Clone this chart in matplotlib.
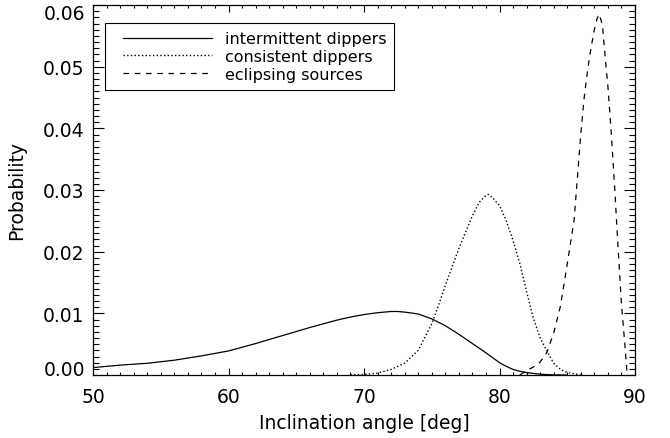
import matplotlib
matplotlib.use("Agg")
import matplotlib.pyplot as plt
from matplotlib.ticker import MultipleLocator, FuncFormatter
from matplotlib.lines import Line2D
from matplotlib.legend_handler import HandlerLine2D

# intermittent dippers (solid)
inc_int = [50, 52, 54, 56, 58, 60, 62, 64, 66, 68, 69, 70, 71, 72, 72.5, 73, 74, 75,
           76, 77, 78, 79, 79.5, 80, 80.5, 81, 81.5, 82, 83, 84, 85]
prob_int = [0.0012, 0.0016, 0.0019, 0.0024, 0.0031, 0.0039, 0.0051, 0.0064, 0.0077,
            0.0089, 0.0094, 0.0098, 0.0101, 0.0103, 0.0103, 0.0102, 0.0099, 0.0091,
            0.0080, 0.0066, 0.0051, 0.0036, 0.0028, 0.0020, 0.0014, 0.0009, 0.0006,
            0.0004, 0.00012, 0.00002, 0.0]

# consistent dippers (dotted)
inc_con = [69, 70, 71, 72, 73, 74, 75, 75.5, 76, 76.5, 77, 77.5, 78, 78.5, 79, 79.2,
           79.5, 80, 80.5, 81, 81.5, 82, 82.5, 83, 83.5, 84, 84.5, 85, 86]
prob_con = [0.0, 0.0001, 0.0003, 0.0009, 0.0019, 0.0040, 0.0083, 0.0113, 0.0145,
            0.0175, 0.0205, 0.0232, 0.0258, 0.0280, 0.0291, 0.0293, 0.0287, 0.0275,
            0.0250, 0.0218, 0.0181, 0.0135, 0.0092, 0.0060, 0.0039, 0.0019, 0.0009,
            0.0004, 0.0]

# eclipsing sources (dashed)
inc_ecl = [81.5, 82, 82.5, 83, 83.5, 84, 84.5, 85, 85.25, 85.5, 85.75, 86, 86.25,
           86.5, 86.75, 87, 87.2, 87.37, 87.6, 87.8, 88, 88.25, 88.5, 88.75, 89,
           89.25, 89.4, 89.5]
prob_ecl = [0.0, 0.0007, 0.0013, 0.0021, 0.0037, 0.0068, 0.0112, 0.0180, 0.0215,
            0.0250, 0.0320, 0.0391, 0.0450, 0.0494, 0.0530, 0.0560, 0.0578, 0.0585,
            0.0567, 0.0515, 0.0468, 0.0392, 0.0304, 0.0207, 0.0115, 0.0050, 0.0007,
            0.0]

labels = ["intermittent dippers", "consistent dippers", "eclipsing sources"]

ymin, ymax = 0.0, 0.06
fs = 13.5
leg_fs = 11.5
plt.rcParams["font.family"] = "DejaVu Sans"

fig = plt.figure(figsize=(6.7, 4.39), dpi=100)
ax = fig.add_axes([93/670., 1-376/439., 542/670., 370/439.])

ax.plot(inc_int, prob_int, '-', color='black', lw=0.9, label=labels[0])
ax.plot(inc_con, prob_con, ':', color='black', lw=1.0, label=labels[1])
ax.plot(inc_ecl, prob_ecl, color='black', lw=0.9, dashes=(4.5, 4.5), label=labels[2])

ax.set_xlim(50, 90)
ax.set_ylim(ymin, ymax)
ax.xaxis.set_major_locator(MultipleLocator(10))
ax.xaxis.set_minor_locator(MultipleLocator(1))
ax.yaxis.set_major_locator(MultipleLocator(0.01))
ax.yaxis.set_minor_locator(MultipleLocator(0.001))


def yfmt(v, pos):
    # end labels drawn separately (shifted inwards like IDL does)
    if abs(v - ymin) < 1e-9 or abs(v - ymax) < 1e-9:
        return ""
    return "%.2f" % v


ax.yaxis.set_major_formatter(FuncFormatter(yfmt))

ax.tick_params(axis='both', which='both', direction='in', top=True, right=True,
               labelsize=fs, width=0.8)
ax.tick_params(axis='x', which='major', length=5, pad=9)
ax.tick_params(axis='x', which='minor', length=2.5)
ax.tick_params(axis='y', which='major', length=8, pad=6)
ax.tick_params(axis='y', which='minor', length=4)
for sp in ax.spines.values():
    sp.set_linewidth(0.9)

for v, dy in [(ymin, 6), (ymax, -9)]:
    ax.annotate("%.2f" % v, xy=(0, v), xycoords=ax.get_yaxis_transform(),
                xytext=(-8, dy), textcoords='offset pixels',
                ha='right', va='center', fontsize=fs)

ax.set_xlabel("Inclination angle [deg]", fontsize=fs, labelpad=5)
ax.set_ylabel("Probability", fontsize=fs, labelpad=12)

leg = ax.legend(loc='upper left', bbox_to_anchor=(0.022, 0.951), fontsize=leg_fs,
                frameon=True, fancybox=False, edgecolor='black', framealpha=1,
                handlelength=6.2, handletextpad=0.8, labelspacing=0.18,
                borderpad=0.5, borderaxespad=0,
                handler_map={Line2D: HandlerLine2D(xpad=0.63)})
leg.get_frame().set_linewidth(0.8)

fig.savefig("out.png", dpi=100)
